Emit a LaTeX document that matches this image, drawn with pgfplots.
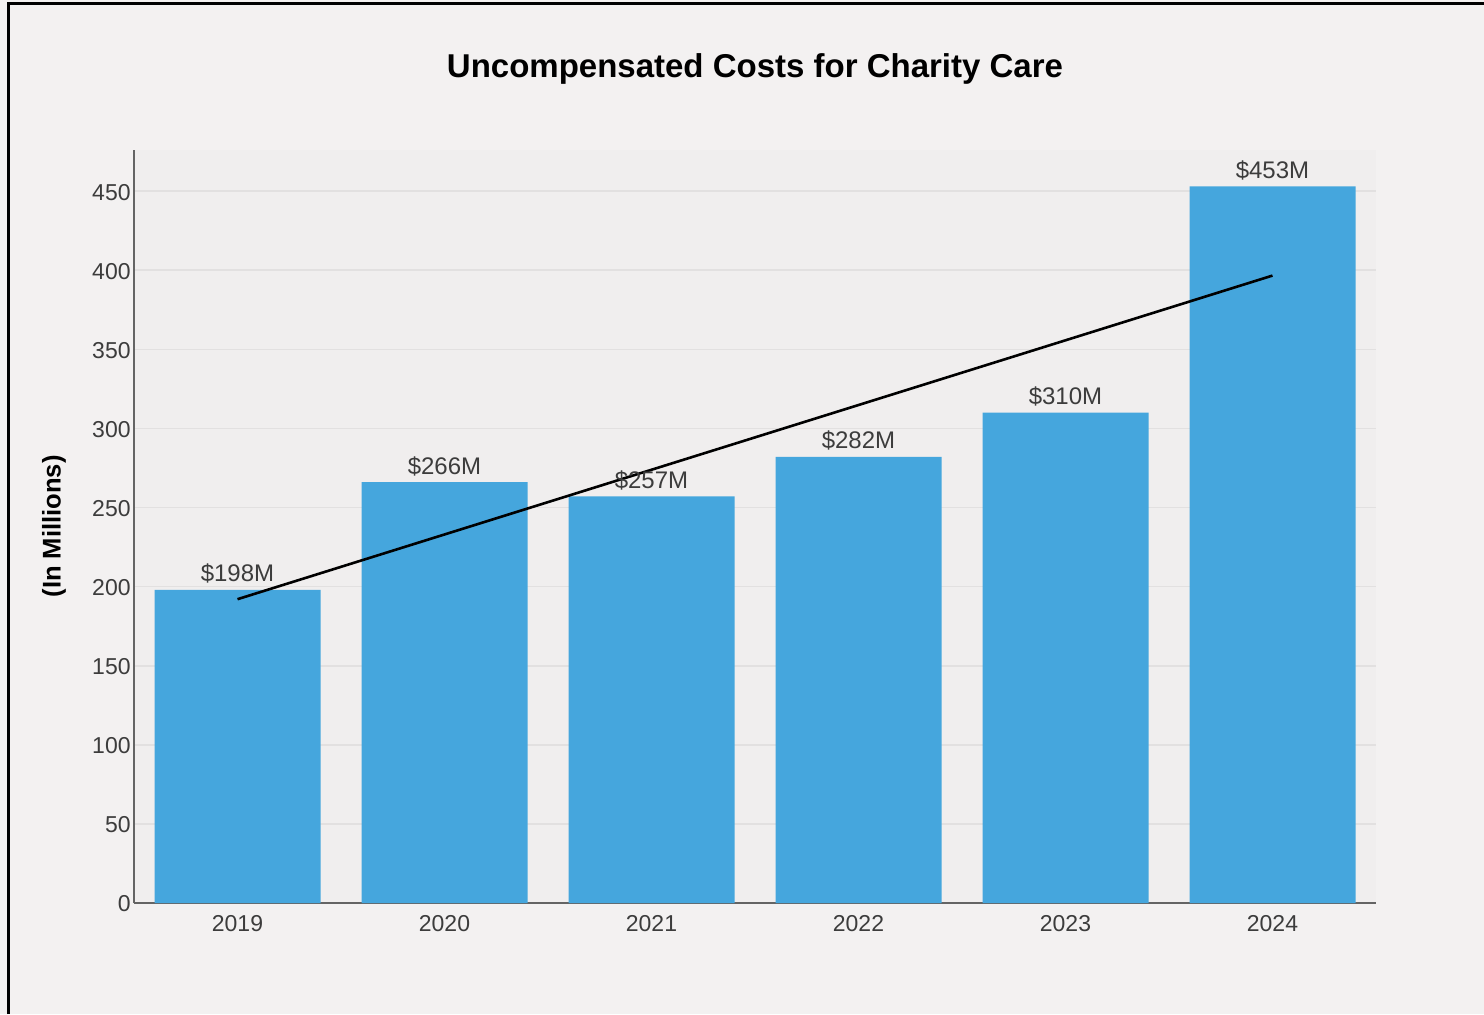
\documentclass[border=0pt]{standalone}
\usepackage{pgfplots}
\pgfplotsset{compat=1.18}
\usepackage{fontspec}
\setmainfont{Liberation Sans}
\definecolor{pagebg}{RGB}{243,241,241}
\definecolor{plotbg}{RGB}{240,238,238}
\definecolor{barblue}{RGB}{69,166,221}
\definecolor{gridc}{RGB}{226,224,224}
\definecolor{axisc}{RGB}{100,100,100}
\definecolor{txt}{RGB}{60,60,60}
\begin{document}
\begin{tikzpicture}
\fill[pagebg] (0pt,0pt) rectangle (742pt,-507pt);
\useasboundingbox (0pt,0pt) rectangle (742pt,-507pt);
\draw[black, line width=1.5pt] (4pt,-507pt) -- (4pt,-1.5pt) -- (742pt,-1.5pt);
\node[font=\bfseries\fontsize{16.5}{18}\selectfont, text=black] at (377.5pt,-34.5pt) {Uncompensated Costs for Charity Care};
\node[font=\bfseries\fontsize{12.8}{15}\selectfont, text=black, rotate=90] at (27pt,-263.2pt) {(In Millions)};
\begin{axis}[
  at={(67pt,-451.5pt)}, anchor=south west,
  width=621pt, height=376.5pt, scale only axis,
  xmin=-0.5, xmax=5.5, ymin=0, ymax=476,
  axis x line*=bottom, axis y line*=left,
  axis line style={axisc, line width=1pt, -},
  axis background/.style={fill=plotbg},
  xtick={0,1,2,3,4,5},
  xticklabels={2019,2020,2021,2022,2023,2024},
  ytick={0,50,100,150,200,250,300,350,400,450},
  major tick length=0pt,
  ymajorgrids, grid style={gridc, line width=0.8pt},
  /pgf/number format/assume math mode=true,
  tick label style={font=\fontsize{11.5}{13}\selectfont, text=txt},
  yticklabel style={inner sep=1.5pt, yshift=-0.5pt},
  xticklabel style={yshift=-2.5pt},
  clip=false,
]
\addplot[ybar, bar width=83pt, fill=barblue, draw=none,
  point meta=y,
  nodes near coords={\$\pgfmathprintnumber{\pgfplotspointmeta}M},
  nodes near coords style={font=\fontsize{12}{14}\selectfont, text=txt, inner sep=3pt, anchor=south}]
  coordinates {(0,198) (1,266) (2,257) (3,282) (4,310) (5,453)};
\addplot[black, line width=1.3pt, mark=none] coordinates {(0,192.05) (5,396.62)};
\end{axis}
\end{tikzpicture}
\end{document}
